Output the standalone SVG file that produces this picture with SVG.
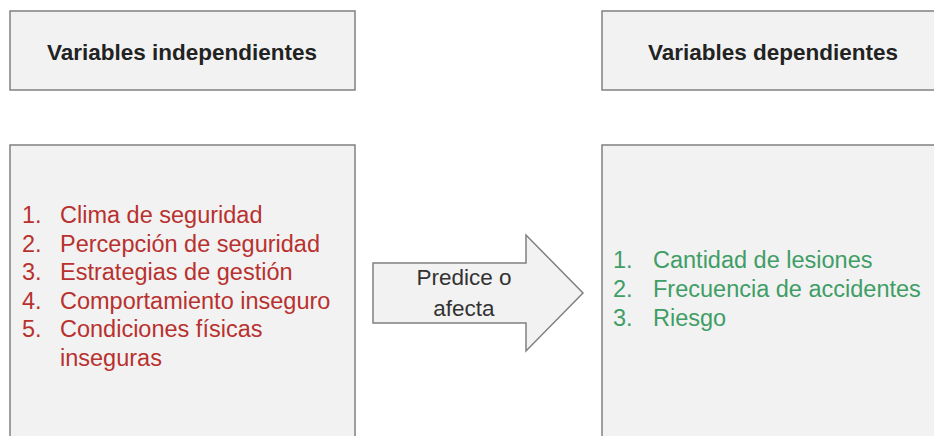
<svg xmlns="http://www.w3.org/2000/svg" width="934" height="436" viewBox="0 0 934 436">
  <style>
    .box { fill: #f2f2f2; stroke: #808080; stroke-width: 1.5; }
    .head { font-family: "Liberation Sans", Arial, sans-serif; font-weight: bold; font-size: 22.5px; fill: #222222; text-anchor: middle; }
    .item { font-family: "Liberation Sans", Arial, sans-serif; font-size: 23.5px; }
    .red { fill: #b8312f; }
    .green { fill: #3f9d66; }
    .lbl { font-family: "Liberation Sans", Arial, sans-serif; font-size: 22.5px; fill: #333333; text-anchor: middle; }
  </style>
  <rect width="934" height="436" fill="#ffffff"/>

  <g id="independientes-titulo">
    <rect class="box" x="10" y="11" width="345" height="79"/>
    <text class="head" x="182" y="60">Variables independientes</text>
  </g>

  <g id="dependientes-titulo">
    <rect class="box" x="602" y="11" width="345" height="79"/>
    <text class="head" x="773" y="60">Variables dependientes</text>
  </g>

  <g id="independientes-lista">
    <rect class="box" x="10" y="145" width="345" height="300"/>
    <g class="item red">
      <text x="22" y="223">1.</text><text x="60" y="223">Clima de seguridad</text>
      <text x="22" y="251.5">2.</text><text x="60" y="251.5">Percepción de seguridad</text>
      <text x="22" y="280">3.</text><text x="60" y="280">Estrategias de gestión</text>
      <text x="22" y="308.5">4.</text><text x="60" y="308.5">Comportamiento inseguro</text>
      <text x="22" y="337">5.</text><text x="60" y="337">Condiciones físicas</text>
      <text x="60" y="365.5">inseguras</text>
    </g>
  </g>

  <g id="dependientes-lista">
    <rect class="box" x="602" y="145" width="345" height="300"/>
    <g class="item green">
      <text x="613" y="268">1.</text><text x="653" y="268">Cantidad de lesiones</text>
      <text x="613" y="297">2.</text><text x="653" y="297">Frecuencia de accidentes</text>
      <text x="613" y="325.5">3.</text><text x="653" y="325.5">Riesgo</text>
    </g>
  </g>

  <g id="connectors">
    <g id="predice-o-afecta">
      <path class="box" d="M373,263 H526 V235 L583,293 L526,351 V323 H373 Z"/>
      <text class="lbl" x="464" y="285">Predice o</text>
      <text class="lbl" x="464" y="316">afecta</text>
    </g>
  </g>
</svg>
